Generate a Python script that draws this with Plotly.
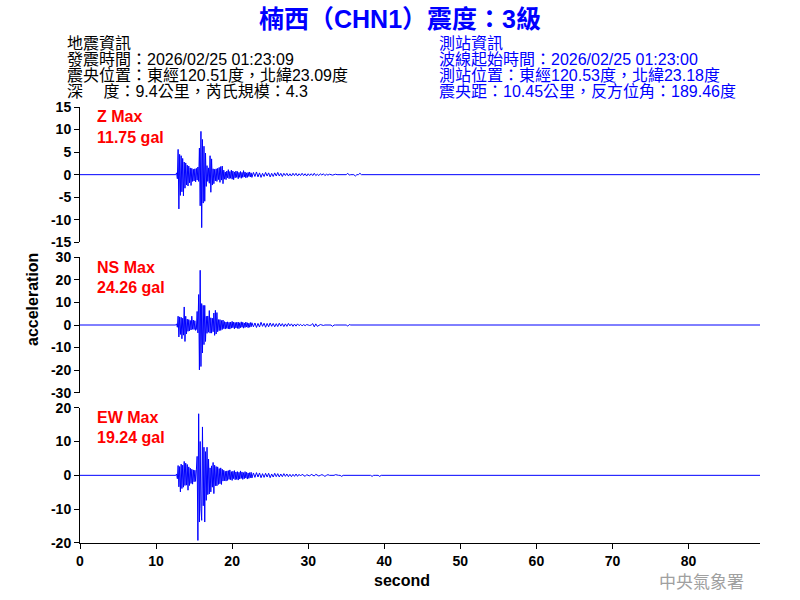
import plotly.graph_objects as go
from plotly.subplots import make_subplots

# waveform samples (gal); dense part every 0.1 s from 12.6 s, tail every 0.2 s from 22.6 s
T_DENSE0 = 12.6
DT_DENSE = 0.1
T_TAIL0 = 22.6
DT_TAIL = 0.2
T_END = 89.4

z_dense = [
    0, 0.4, -0.9, 5.6, -7.6, 4.5, -4.6, 4.2, -3.8, 3.6,
    -4.7, 2.8, -3.0, 2.6, -2.3, 2.1, -2.5, 1.9, -1.8, 1.5,
    -2.4, 1.4, -1.5, 1.2, -1.4, 1.3, -1.6, 1.4, -1.2, 1.7,
    -1.5, 5.9, -6.9, 9.6, -11.75, 7.8, -6.3, 6.3, -5.9, 4.8,
    -2.6, 2.0, -1.5, 1.5, -1.9, 4.2, -3.9, 3.5, -2.3, 1.3,
    -2.0, 1.2, -1.4, 1.3, -1.5, 1.4, -1.1, 1.6, -1.7, 1.8,
    -1.2, 1.9, -2.0, 1.0, -1.0, 0.6, -1.1, 0.8, -0.7, 1.1,
    -0.9, 0.7, -0.8, 1.0, -1.0, 0.8, -1.1, 0.6, -0.7, 0.8,
    -0.6, 0.7, -0.9, 0.5, -0.6, 0.7, -0.8, 0.5, -0.6, 0.9,
    -0.5, 0.6, -0.7, 0.4, -0.6, 0.5, -0.4, 0.6, -0.5, 0.4,
]
z_tail = [
    -0.6, 0.5, -0.4, 0.6, -0.5, 0.4, -0.6, 0.3, -0.4, 0.5,
    -0.3, 0.4, -0.5, 0.3, -0.4, 0.4, -0.3, 0.5, -0.3, 0.3,
    -0.4, 0.3, -0.2, 0.3, -0.3, 0.2, -0.3, 0.3, -0.2, 0.3,
    -0.3, 0.2, -0.2, 0.3, -0.2, 0.2, -0.3, 0.2, -0.2, 0.2,
    -0.2, 0.3, -0.2, 0.1, -0.2, 0.2, -0.1, 0.2, -0.2, 0.1,
    -0.1, 0.1, 0, -0.1, 0, 0.1, 0, 0, -0.1, 0,
    0, 0, 0, 0.3, -0.1, 0, 0, 0, -0.3, 0,
    0, 0.3, 0, 0, 0,
]

ns_dense = [
    0, 0.5, -1.0, 3.9, -5.3, 3.6, -4.2, 3.4, -6.1, 3.0,
    -4.5, 8.0, -7.3, 3.9, -4.0, 2.6, -2.8, 2.4, -2.6, 2.0,
    -2.2, 3.9, -1.9, 2.2, -2.0, 1.9, -2.4, -1.8, 6.0, -3.5,
    13.5, -19.9, 24.26, -18.4, 9.5, -12.4, 8.7, -8.7, 8.7, -7.3,
    3.9, -3.7, 4.0, -3.2, 6.4, -3.6, 3.2, -3.6, 3.0, -3.0,
    5.3, -4.6, 6.5, -4.0, 5.5, -3.0, 2.4, -2.5, 2.4, -2.4,
    2.0, -2.0, 2.2, -1.6, 1.5, -1.8, 1.3, -1.5, 1.4, -1.7,
    1.2, -1.8, 1.3, -1.4, 1.6, -1.2, 1.3, -1.7, 1.1, -1.3,
    1.2, -1.5, 1.3, -1.6, 1.0, -1.2, 1.4, -1.0, 1.2, -1.4,
    0.9, -1.1, 1.3, -0.9, 1.0, -1.2, 0.8, -1.0, 1.1, -0.8,
]
ns_tail = [
    1.0, -0.8, 0.9, -1.1, 0.7, -0.9, 1.2, -0.6, 0.8, -1.0,
    0.7, -0.8, 0.9, -0.6, 0.7, -0.8, 0.6, -0.7, 0.8, -0.5,
    0.6, -0.7, 0.5, -0.6, 0.7, -0.4, 0.5, -0.6, 0.4, -0.5,
    0.5, -0.3, 0.3, -0.4, 0.2, -0.3, 0.2, 0, -0.2, 0,
    0.6, -0.8, 0.5, -0.6, 0, 0.2, 0, -0.2, 0, 0,
    0, 0, 0, -0.6, 0, 0, 0, 0, 0, 0,
    0, 0, 0, -0.5, 0.2, 0, 0, 0, 0, 0,
    0, 0, 0, 0, 0,
]

ew_dense = [
    0, 0.4, -1.0, 2.9, -3.4, 2.6, -4.9, 3.3, -3.9, 3.0,
    -3.5, 4.1, -3.0, 3.6, -2.9, 3.2, -4.4, 2.5, -3.0, 2.1,
    -2.4, 1.8, -2.6, 1.6, -1.9, 1.5, -1.8, 1.6, 5.6, -19.24,
    18.2, -13.8, 10.0, -9.9, -13.3, 14.3, -9.0, 8.3, -13.8, 7.0,
    -7.4, 8.3, -5.7, 4.8, -5.5, 2.2, -4.9, 2.8, -3.5, 3.8,
    -5.4, 3.0, -3.1, 2.6, -3.1, 2.5, -2.7, 2.0, -2.5, 2.2,
    -2.7, 1.8, -1.7, 1.5, -1.6, 1.2, -1.7, 1.3, -1.5, 1.4,
    -1.2, 1.6, -1.3, 1.1, -1.5, 1.2, -1.0, 1.4, -1.3, 1.0,
    -1.2, 1.1, -1.4, 0.9, -1.1, 1.3, -0.9, 1.0, -1.2, 0.8,
    -1.0, 1.1, -0.8, 0.9, -1.1, 0.7, -0.9, 0.8, -0.7, 0.9,
]
ew_tail = [
    -0.8, 0.7, -0.6, 0.8, -0.5, 0.7, -0.7, 0.5, -0.6, 0.6,
    -0.5, 0.6, -0.7, 0.4, -0.5, 0.6, -0.4, 0.5, -0.5, 0.4,
    -0.4, 0.5, -0.3, 0.4, -0.4, 0.3, -0.4, 0.3, -0.3, 0.4,
    -0.3, 0.3, -0.2, 0.3, 0, -0.3, 0.2, 0, -0.2, 0.3,
    0, -0.2, 0.3, 0, -0.2, 0, 0.2, 0, -0.3, 0,
    0.2, 0, 0, -0.2, 0, 0.2, 0, 0, 0, -0.3,
    0, 0, 0, 0.2, 0, 0, 0, 0, 0, 0,
    0, 0, 0, 0, 0, 0, 0, 0, 0, -0.3,
    0, 0, 0, 0, -0.3, 0,
]

components = ["Z", "NS", "EW"]
max_labels = ["11.75 gal", "24.26 gal", "19.24 gal"]
y_ticks = [
    [-15, -10, -5, 0, 5, 10, 15],
    [-30, -20, -10, 0, 10, 20, 30],
    [-20, -10, 0, 10, 20],
]
x_ticks = [0, 10, 20, 30, 40, 50, 60, 70, 80]

left_info = [
    "地震資訊",
    "發震時間：2026/02/25 01:23:09",
    "震央位置：東經120.51度，北緯23.09度",
    "深　 度：9.4公里，芮氏規模：4.3",
]
right_info = [
    "測站資訊",
    "波線起始時間：2026/02/25 01:23:00",
    "測站位置：東經120.53度，北緯23.18度",
    "震央距：10.45公里，反方位角：189.46度",
]

FONT = "Liberation Sans, Arial, Noto Sans CJK TC"


def series(dense, tail):
    t = [0.0]
    t += [round(T_DENSE0 + DT_DENSE * i, 2) for i in range(len(dense))]
    t += [round(T_TAIL0 + DT_TAIL * j, 2) for j in range(len(tail))]
    t.append(T_END)
    return t, [0.0] + dense + tail + [0.0]


fig = make_subplots(rows=3, cols=1, shared_xaxes=True, vertical_spacing=15 / 436)

for row, (dense, tail) in enumerate([(z_dense, z_tail), (ns_dense, ns_tail), (ew_dense, ew_tail)], start=1):
    t, y = series(dense, tail)
    fig.add_trace(go.Scatter(x=t, y=y, mode="lines", line=dict(color="#0000ff", width=1),
                             showlegend=False, hoverinfo="skip"), row=row, col=1)
    ticks = y_ticks[row - 1]
    fig.update_yaxes(range=[ticks[0], ticks[-1]], tickmode="array", tickvals=ticks,
                     ticktext=[str(v) for v in ticks], row=row, col=1)

fig.update_yaxes(showline=True, linecolor="black", linewidth=1, ticks="outside", ticklen=5,
                 tickcolor="black", showgrid=False, zeroline=False,
                 tickfont=dict(family=FONT, size=14, color="black", weight="bold"))
fig.update_xaxes(range=[0, T_END], showgrid=False, zeroline=False, showline=False,
                 ticks="", showticklabels=False)
fig.update_xaxes(showline=True, linecolor="black", linewidth=1, ticks="outside", ticklen=5,
                 tickcolor="black", showticklabels=True, tickmode="array", tickvals=x_ticks,
                 tickfont=dict(family=FONT, size=14, color="black", weight="bold"), row=3, col=1)

# plot area in page pixels: x 80..760, y 107..543
H = 436.0
B = 543.0


def py(px):
    return (B - px) / H


def pxx(px):
    return (px - 80) / 680.0


ann = []
for i, line in enumerate(left_info):
    ann.append(dict(text=line, x=pxx(65), y=py(43 + 16 * i), xanchor="left", yanchor="middle",
                    font=dict(family=FONT, size=16, color="black")))
for i, line in enumerate(right_info):
    ann.append(dict(text=line, x=pxx(437), y=py(43 + 16 * i), xanchor="left", yanchor="middle",
                    font=dict(family=FONT, size=16, color="#0000ff")))

for k, comp in enumerate(components):
    top = 117 + 150 * k
    ann.append(dict(text="<b>" + comp + " Max</b>", x=pxx(95), y=py(top), xanchor="left",
                    yanchor="middle", font=dict(family=FONT, size=16, color="#ff0000")))
    ann.append(dict(text="<b>" + max_labels[k] + "</b>", x=pxx(95), y=py(top + 20), xanchor="left",
                    yanchor="middle", font=dict(family=FONT, size=16, color="#ff0000")))

ann.append(dict(text="<b>acceleration</b>", x=pxx(32), y=py(300), textangle=-90,
                xanchor="center", yanchor="middle", font=dict(family=FONT, size=16, color="black")))
ann.append(dict(text="<b>second</b>", x=pxx(402), y=py(580), xanchor="center", yanchor="middle",
                font=dict(family=FONT, size=16, color="black")))
ann.append(dict(text="中央氣象署", x=pxx(701), y=py(580), xanchor="center", yanchor="middle",
                font=dict(family="Noto Sans CJK TC", size=17, color="#a0a0a0")))

for a in ann:
    a.update(xref="paper", yref="paper", showarrow=False)

fig.update_layout(
    width=800, height=600,
    margin=dict(l=80, r=40, t=107, b=57),
    paper_bgcolor="white", plot_bgcolor="white",
    title=dict(text="<b>楠西（CHN1）震度：3級</b>", x=0.5, xanchor="center",
               y=1 - 19 / 600, yanchor="middle",
               font=dict(family=FONT, size=25, color="#0000ff")),
    annotations=ann,
)

# drop the default page margin so the figure sits at the window origin
fig.write_html("out.html", config={"displayModeBar": False},
               post_script="document.body.style.margin='0';document.body.style.overflow='hidden';")
